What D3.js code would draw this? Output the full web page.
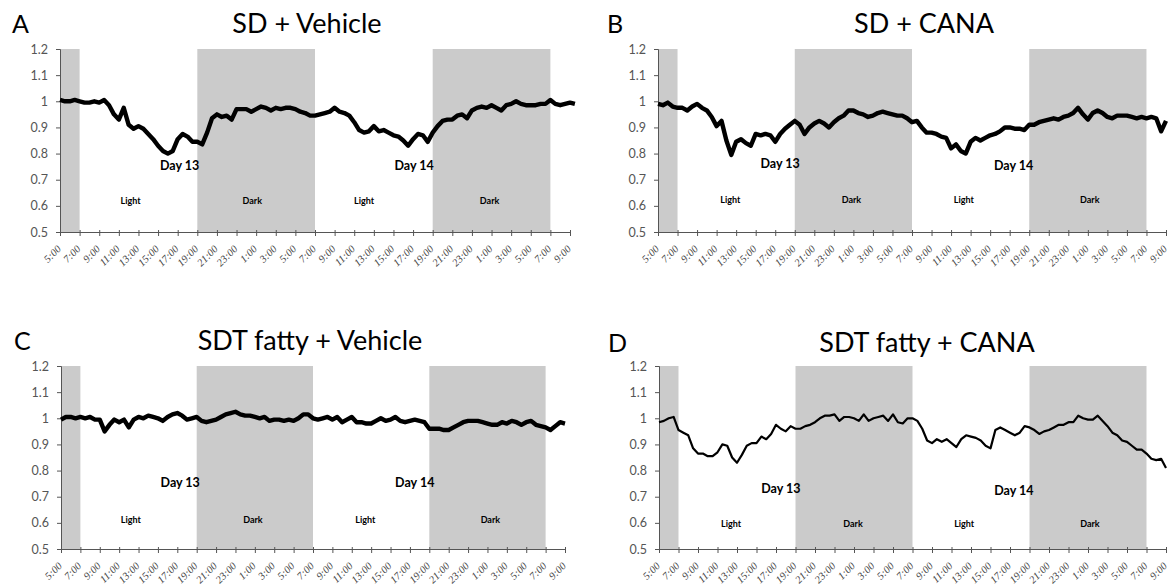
<!DOCTYPE html>
<html>
<head>
<meta charset="utf-8">
<script src="https://cdn.jsdelivr.net/npm/d3@7"></script>
<style>
  body { margin: 0; background: #fff; }
  svg { display: block; }
</style>
</head>
<body>
<svg width="1171" height="588"></svg>
<script>
// x tick labels, every 2 h starting at 5:00 on day 13
const tickLabels = ['5:00','7:00','9:00','11:00','13:00','15:00','17:00','19:00','21:00','23:00','1:00','3:00','5:00',
  '7:00','9:00','11:00','13:00','15:00','17:00','19:00','21:00','23:00','1:00','3:00','5:00','7:00','9:00'];
const yTicks = [0.5, 0.6, 0.7, 0.8, 0.9, 1, 1.1, 1.2];
// dark phases, in hours after 5:00 day 13
const darkSpans = [[0, 2], [14, 26], [38, 50]];

// readings every 30 min (0 .. 52 h)
const sdVehicle = [
  1.005,1.0,1.0,1.005,1.0,0.995,0.995,1.0,0.995,1.005,0.985,0.95,0.93,0.975,0.91,0.895,0.905,0.895,0.875,0.855,
  0.83,0.81,0.80,0.81,0.855,0.875,0.865,0.845,0.845,0.835,0.88,0.935,0.95,0.94,0.945,0.93,0.97,0.97,0.97,0.96,
  0.97,0.98,0.975,0.965,0.975,0.97,0.975,0.975,0.97,0.96,0.955,0.945,0.945,0.95,0.955,0.96,0.975,0.96,0.955,0.945,
  0.92,0.89,0.88,0.885,0.905,0.885,0.89,0.88,0.87,0.865,0.85,0.83,0.855,0.875,0.87,0.845,0.88,0.905,0.925,0.93,
  0.93,0.945,0.95,0.935,0.965,0.975,0.98,0.975,0.985,0.975,0.965,0.985,0.99,1.0,0.99,0.985,0.985,0.985,0.99,0.99,
  1.005,0.99,0.985,0.99,0.995,0.99
];
const sdCana = [
  0.99,0.985,0.995,0.98,0.975,0.975,0.965,0.98,0.99,0.975,0.965,0.94,0.905,0.925,0.85,0.795,0.845,0.855,0.84,0.83,
  0.875,0.87,0.875,0.87,0.845,0.875,0.895,0.91,0.925,0.91,0.875,0.9,0.915,0.925,0.915,0.9,0.92,0.935,0.945,0.965,
  0.965,0.955,0.95,0.94,0.945,0.955,0.96,0.955,0.95,0.945,0.945,0.935,0.92,0.925,0.9,0.88,0.88,0.875,0.865,0.86,
  0.82,0.835,0.81,0.80,0.845,0.86,0.85,0.86,0.87,0.875,0.885,0.9,0.9,0.895,0.895,0.89,0.91,0.91,0.92,0.925,
  0.93,0.935,0.93,0.94,0.945,0.955,0.975,0.95,0.93,0.955,0.965,0.955,0.94,0.935,0.945,0.945,0.945,0.94,0.935,0.94,
  0.935,0.94,0.935,0.885,0.925
];
const sdtVehicle = [
  0.995,1.005,1.005,1.0,1.005,1.0,1.005,0.995,0.995,0.95,0.975,0.995,0.985,0.995,0.965,0.995,1.005,1.0,1.01,1.005,
  1.0,0.99,1.005,1.015,1.02,1.01,0.995,1.0,1.005,0.99,0.985,0.99,0.995,1.005,1.015,1.02,1.025,1.015,1.01,1.01,
  1.005,1.0,1.005,0.99,0.995,0.995,0.99,0.995,0.99,1.0,1.015,1.015,1.0,0.995,1.0,1.005,0.995,1.005,0.985,0.995,
  1.005,0.985,0.985,0.98,0.98,0.99,1.0,0.99,0.995,1.005,0.99,0.985,0.99,0.995,0.99,0.985,0.96,0.96,0.96,0.955,
  0.955,0.965,0.975,0.985,0.99,0.99,0.99,0.985,0.98,0.975,0.975,0.985,0.98,0.99,0.985,0.975,0.985,0.99,0.975,0.97,
  0.965,0.955,0.97,0.985,0.98
];
const sdtCana = [
  0.985,0.99,1.0,1.005,0.955,0.945,0.935,0.885,0.865,0.865,0.855,0.855,0.87,0.9,0.895,0.85,0.83,0.86,0.895,0.905,
  0.905,0.93,0.92,0.94,0.975,0.96,0.95,0.97,0.96,0.96,0.97,0.975,0.985,1.0,1.01,1.01,1.015,0.99,1.005,1.005,
  1.0,0.99,1.015,0.99,1.0,1.005,1.01,0.99,1.015,0.985,0.98,1.0,1.0,0.99,0.96,0.915,0.905,0.92,0.91,0.92,
  0.905,0.89,0.92,0.935,0.93,0.925,0.915,0.895,0.885,0.955,0.965,0.955,0.945,0.935,0.945,0.97,0.965,0.955,0.94,0.95,
  0.955,0.965,0.975,0.975,0.985,0.985,1.01,1.0,0.995,0.995,1.01,0.99,0.97,0.945,0.935,0.915,0.91,0.895,0.88,0.88,
  0.865,0.845,0.84,0.845,0.81
];

const hours = sdVehicle.map((d, i) => i * 0.5);

const panels = [
  { letter: 'A', title: 'SD + Vehicle', vals: sdVehicle, left: 60, right: 570, top: 49, bottom: 232,
    lw: 4.4, titleX: 307, titleY: 33, letterX: 12, day: [[12.2, 0.75], [36.1, 0.75]], ld: 0.615,
    light: [7.2, 31], dark: [19.6, 43.8] },
  { letter: 'B', title: 'SD + CANA', vals: sdCana, left: 658, right: 1166, top: 49, bottom: 232,
    lw: 4.4, titleX: 924, titleY: 33, letterX: 607, day: [[12.5, 0.758], [36.4, 0.748]], ld: 0.62,
    light: [7.4, 31.3], dark: [19.8, 44.2] },
  { letter: 'C', title: 'SDT fatty + Vehicle', vals: sdtVehicle, left: 61, right: 565, top: 366, bottom: 549,
    lw: 4.4, titleX: 310, titleY: 350, letterX: 14, day: [[12.3, 0.749], [36.5, 0.749]], ld: 0.61,
    light: [7.2, 31.4], dark: [19.8, 44.3] },
  { letter: 'D', title: 'SDT fatty + CANA', vals: sdtCana, left: 659, right: 1166, top: 366, bottom: 549,
    lw: 2.2, titleX: 927, titleY: 352, letterX: 608, day: [[12.5, 0.726], [36.4, 0.72]], ld: 0.592,
    light: [7.4, 31.3], dark: [19.9, 44.2] }
];

const svg = d3.select('svg');
const sans = 'Lato, "Open Sans", sans-serif';

panels.forEach(p => {
  const x = d3.scaleLinear().domain([0, 52]).range([p.left, p.right]);
  const y = d3.scaleLinear().domain([0.5, 1.2]).range([p.bottom, p.top]);
  const g = svg.append('g');

  // dark phase shading
  g.selectAll('rect.dark').data(darkSpans).join('rect')
    .attr('x', d => x(d[0]))
    .attr('y', y(1.2))
    .attr('width', d => x(d[1]) - x(d[0]))
    .attr('height', y(0.5) - y(1.2))
    .attr('fill', '#cbcbcb');

  // y axis
  const yAxis = d3.axisLeft(y).tickValues(yTicks).tickSize(4).tickPadding(8)
    .tickFormat(d => d === 1 ? '1' : d3.format('.1f')(d));
  const ya = g.append('g').attr('transform', `translate(${p.left},0)`).call(yAxis);
  ya.select('.domain').attr('stroke', '#555');
  ya.selectAll('.tick line').attr('stroke', '#555');
  ya.selectAll('.tick text').attr('fill', '#555').style('font', `12.5px ${sans}`);

  // x axis, labels drawn separately at 45 degrees
  const xAxis = d3.axisBottom(x).tickValues(d3.range(0, 53, 2)).tickSize(4).tickFormat('');
  const xa = g.append('g').attr('transform', `translate(0,${p.bottom})`).call(xAxis);
  xa.select('.domain').attr('stroke', '#555');
  xa.selectAll('.tick line').attr('stroke', '#555').attr('y1', -2);

  g.selectAll('text.xl').data(d3.range(0, 53, 2)).join('text')
    .attr('class', 'xl')
    .attr('transform', d => `translate(${x(d) - 1},${p.bottom + 15}) rotate(-45)`)
    .attr('text-anchor', 'end')
    .attr('dy', '0.35em')
    .attr('fill', '#444')
    .style('font-family', '"Liberation Serif", "DejaVu Serif", serif')
    .style('font-style', 'italic')
    .style('font-size', '10.5px')
    .text((d, i) => tickLabels[i]);

  // data line
  const line = d3.line().x((d, i) => x(hours[i])).y(d => y(d));
  g.append('path')
    .datum(p.vals)
    .attr('d', line)
    .attr('fill', 'none')
    .attr('stroke', '#000')
    .attr('stroke-width', p.lw)
    .attr('stroke-linejoin', 'round');

  // labels
  g.selectAll('text.day').data(p.day).join('text')
    .attr('x', d => x(d[0]))
    .attr('y', d => y(d[1]))
    .attr('text-anchor', 'middle')
    .attr('dominant-baseline', 'middle')
    .style('font', `bold 12.5px ${sans}`)
    .text((d, i) => 'Day ' + (13 + i));
  g.selectAll('text.light').data(p.light).join('text')
    .attr('x', d => x(d))
    .attr('y', y(p.ld))
    .attr('text-anchor', 'middle')
    .attr('dominant-baseline', 'middle')
    .style('font', `bold 9px ${sans}`)
    .text('Light');
  g.selectAll('text.darklbl').data(p.dark).join('text')
    .attr('x', d => x(d))
    .attr('y', y(p.ld))
    .attr('text-anchor', 'middle')
    .attr('dominant-baseline', 'middle')
    .style('font', `bold 9px ${sans}`)
    .text('Dark');

  // title and panel letter
  g.append('text')
    .attr('x', p.titleX).attr('y', p.titleY)
    .attr('text-anchor', 'middle')
    .style('font', `27px ${sans}`)
    .text(p.title);
  g.append('text')
    .attr('x', p.letterX).attr('y', p.titleY)
    .style('font', `25px ${sans}`)
    .text(p.letter);
});
</script>
</body>
</html>
